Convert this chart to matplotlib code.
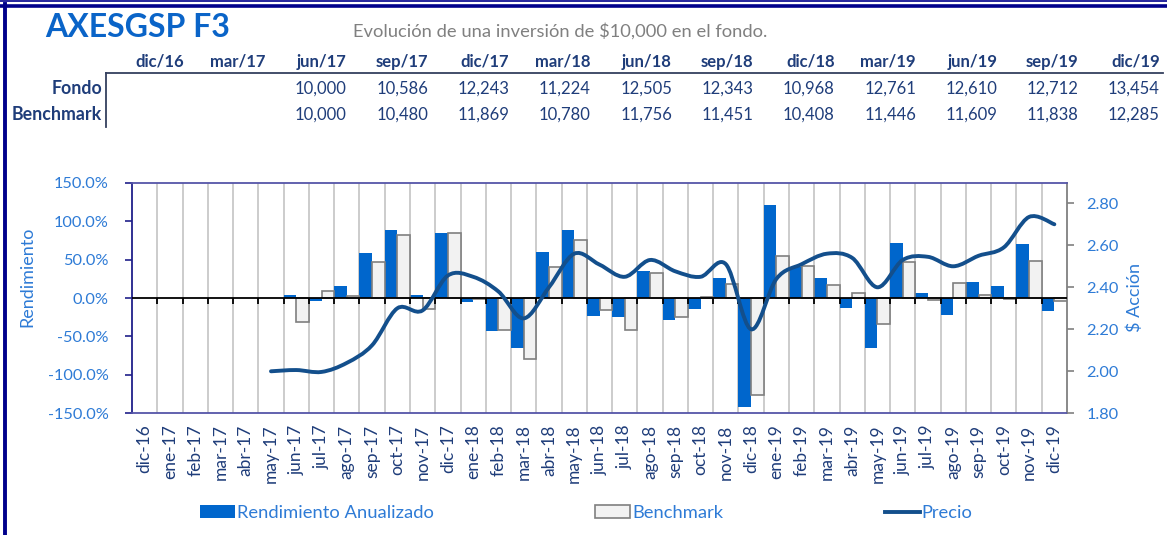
import numpy as np
import matplotlib.pyplot as plt
from matplotlib.path import Path
from matplotlib.patches import PathPatch, Patch
from matplotlib.lines import Line2D

plt.rcParams['font.family'] = ['Lato', 'DejaVu Sans']

# ---------------- data ----------------
meses = ['dic-16', 'ene-17', 'feb-17', 'mar-17', 'abr-17', 'may-17', 'jun-17', 'jul-17',
         'ago-17', 'sep-17', 'oct-17', 'nov-17', 'dic-17', 'ene-18', 'feb-18', 'mar-18',
         'abr-18', 'may-18', 'jun-18', 'jul-18', 'ago-18', 'sep-18', 'oct-18', 'nov-18',
         'dic-18', 'ene-19', 'feb-19', 'mar-19', 'abr-19', 'may-19', 'jun-19', 'jul-19',
         'ago-19', 'sep-19', 'oct-19', 'nov-19', 'dic-19']

nan = np.nan
# rendimiento anualizado del fondo (%)
rend = [nan, nan, nan, nan, nan, nan,
        4, -4.4, 16, 58, 89, 4, 84, -4.8, -42.6, -65, 59.5, 89, -23.5, -25, 35.6,
        -28.7, -14.8, 26.5, -141.8, 120.8, 40, 26.5, -12.6, -65, 71.7, 7, -21.8,
        21, 16, 70, -16.5]
# benchmark (%)
bench = [nan, nan, nan, nan, nan, nan,
         -31.8, 8.6, 2, 47, 82, -14, 84, -1, -42, -79, 40, 75, -15.7, -42, 33,
         -24.8, 1.7, 18.7, -126, 55, 42, 17, 7, -33.5, 47, -2, 20, 3.5, -1, 48.6, -4]
# precio por accion
precio = [nan, nan, nan, nan, nan,
          2.00, 2.006, 1.997, 2.04, 2.124, 2.30, 2.29, 2.456, 2.45, 2.38, 2.252, 2.40,
          2.56, 2.508, 2.45, 2.53, 2.476, 2.45, 2.51, 2.20, 2.44, 2.51, 2.56, 2.54,
          2.40, 2.53, 2.545, 2.50, 2.55, 2.59, 2.735, 2.70]

tabla_fechas = ['dic/16', 'mar/17', 'jun/17', 'sep/17', 'dic/17', 'mar/18', 'jun/18',
                'sep/18', 'dic/18', 'mar/19', 'jun/19', 'sep/19', 'dic/19']
tabla_fondo = ['', '', '10,000', '10,586', '12,243', '11,224', '12,505', '12,343',
               '10,968', '12,761', '12,610', '12,712', '13,454']
tabla_bench = ['', '', '10,000', '10,480', '11,869', '10,780', '11,756', '11,451',
               '10,408', '11,446', '11,609', '11,838', '12,285']

# ---------------- figure ----------------
W, H = 1167, 535
fig = plt.figure(figsize=(W / 100, H / 100), dpi=100)

def fx(px):
    return px / W

def fy(py):
    return 1 - py / H

navy = '#00008b'
blue_txt = '#2e7bd6'
dark_txt = '#1f3d7a'

# outer frame
fig.add_artist(Line2D([0, 1], [fy(0.7), fy(0.7)], color=navy, lw=1.2))
fig.add_artist(Line2D([0, 1], [fy(5.5), fy(5.5)], color=navy, lw=2.6))
fig.add_artist(Line2D([fx(5), fx(5)], [fy(4), 0], color=navy, lw=2.8))

# title
fig.text(fx(45), fy(37), 'AXESGSP F3', fontsize=23, fontweight='bold', color='#0a64c8',
         ha='left', va='baseline')
fig.text(fx(353), fy(37), 'Evolución de una inversión de $10,000 en el fondo.',
         fontsize=13.2, color='#808080', ha='left', va='baseline')

# table
for k, lab in enumerate(tabla_fechas):
    xr = fx(184 + 81.33 * k)
    fig.text(xr, fy(66.5), lab, fontsize=12, fontweight='bold', color=dark_txt,
             ha='right', va='baseline')
    fig.text(xr, fy(93.5), tabla_fondo[k], fontsize=12, color=dark_txt,
             ha='right', va='baseline')
    fig.text(xr, fy(120), tabla_bench[k], fontsize=12, color=dark_txt,
             ha='right', va='baseline')
fig.text(fx(102), fy(93.5), 'Fondo', fontsize=12.8, fontweight='bold', color=dark_txt,
         ha='right', va='baseline')
fig.text(fx(102), fy(120), 'Benchmark', fontsize=12.8, fontweight='bold', color=dark_txt,
         ha='right', va='baseline')
fig.add_artist(Line2D([fx(106), fx(1163)], [fy(73), fy(73)], color='#34405e', lw=1.3))
fig.add_artist(Line2D([fx(106), fx(106)], [fy(73), fy(127)], color='#34405e', lw=1.3))

# ---------------- chart ----------------
ax = fig.add_axes([fx(132), fy(413.3), fx(1067) - fx(132), fy(182.7) - fy(413.3)])
x = np.arange(len(meses))

ax.bar(x - 0.25, rend, width=0.5, color='#0066cc', zorder=3)
ax.bar(x + 0.25, bench, width=0.5, color='#f2f2f2', edgecolor='#7f7f7f', linewidth=1.2,
       zorder=3)

ax.set_xlim(-0.5, len(meses) - 0.5)
ax.set_ylim(-150, 150)
ax.set_yticks(np.arange(-150, 151, 50))
ax.set_yticklabels(['{:.1f}%'.format(v) for v in np.arange(-150, 151, 50)])
ax.set_xticks(x)
ax.set_xticklabels(meses, rotation=90)
bounds = np.arange(len(meses) - 1) + 0.5
ax.set_xticks(bounds, minor=True)
ax.grid(which='minor', axis='x', color='#c8c8c8', lw=1.3, zorder=0)
ax.set_axisbelow(True)
ax.tick_params(axis='x', which='both', length=0, pad=8, labelsize=12.5, labelcolor=dark_txt)
ax.tick_params(axis='y', length=5, width=1.2, color='#20208a', pad=12, labelsize=11.8,
               labelcolor=blue_txt)

ax.axhline(0, color='black', lw=1.3, zorder=4)
ax.plot(bounds, np.zeros_like(bounds), ls='none', marker=3, ms=4, mew=1.3, color='black',
        zorder=4)

ax.spines['left'].set_color('#20208a')
ax.spines['top'].set_color('#5555a8')
ax.spines['bottom'].set_color('#5555a8')
ax.spines['right'].set_color('#808080')
for s in ax.spines.values():
    s.set_linewidth(1.3)

ax.set_ylabel('Rendimiento', fontsize=13, color=blue_txt)
ax.yaxis.set_label_coords(-0.103, 0.591)

# precio, smoothed like the spreadsheet line
ax2 = ax.twinx()
ax2.set_ylim(1.8, 2.898)
ax2.set_yticks(np.arange(1.8, 2.81, 0.2))
ax2.set_yticklabels(['{:.2f}'.format(v) for v in np.arange(1.8, 2.81, 0.2)])
ax2.tick_params(axis='y', length=5, width=1.2, color='#808080', pad=9, labelsize=11.8,
                labelcolor=blue_txt)
for s in ax2.spines.values():
    s.set_visible(False)

pv = np.array(precio, dtype=float)
ok = ~np.isnan(pv)
pts = np.column_stack([x[ok], pv[ok]])
ext = np.vstack([pts[0], pts, pts[-1]])
verts = [pts[0]]
codes = [Path.MOVETO]
for i in range(len(pts) - 1):
    p0, p1, p2, p3 = ext[i], ext[i + 1], ext[i + 2], ext[i + 3]
    verts += [p1 + (p2 - p0) / 6, p2 - (p3 - p1) / 6, p2]
    codes += [Path.CURVE4] * 3
ax2.add_patch(PathPatch(Path(verts, codes), fill=False, edgecolor='#134f8c', lw=2.8,
                        capstyle='round', zorder=5))

ax2.set_ylabel('$ Acción', fontsize=13, color=blue_txt)
ax2.yaxis.set_label_coords(1.064, 0.504)

# legend
handles = [Patch(facecolor='#0066cc', edgecolor='none'),
           Patch(facecolor='#f2f2f2', edgecolor='#7f7f7f', linewidth=1.2),
           Line2D([], [], color='#134f8c', lw=2.8)]
labels = ['Rendimiento Anualizado', 'Benchmark', 'Precio']
leg = fig.legend(handles, labels, loc='center left', bbox_to_anchor=(fx(200), fy(513)),
                 ncol=3, frameon=False, fontsize=13.2, borderpad=0, borderaxespad=0,
                 handlelength=1.9, handletextpad=0.12, columnspacing=8.8)
for t in leg.get_texts():
    t.set_color(blue_txt)

fig.savefig('out.png', dpi=100)
